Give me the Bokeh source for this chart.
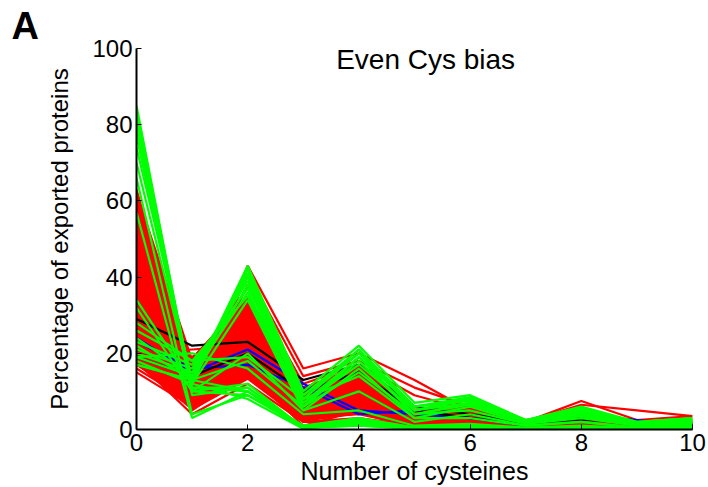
from bokeh.plotting import figure
from bokeh.models import Range1d, Label, FixedTicker
from bokeh.embed import file_html
from bokeh.resources import INLINE

# ---- data (percentage of exported proteins vs number of cysteines) ----
cys = [0, 1, 2, 3, 4, 5, 6, 7, 8, 9, 10]

# dense red bundle (core envelope)
red_core_low = [17, 5, 13, 2, 4, 0.3, 0.3, 0.2, 0.3, 0.2, 0.2]
red_core_high = [63, 19, 35, 11, 17, 5.5, 6, 2.5, 3.5, 2, 2.5]

red_series = [
    [16, 7, 43, 16, 20, 13, 5, 2, 7.5, 2.5, 3.5],
    [15, 6, 41, 14, 18, 11, 6, 2, 6.5, 5, 3.5],
    [17, 8, 38, 12, 17, 9, 5, 2.5, 4, 2, 3],
    [63, 12, 14, 3, 4, 1, 1, 0.5, 0.5, 0.3, 0.2],
    [60, 14, 16, 2, 3, 1, 1.5, 0.5, 1, 0.5, 0.3],
    [55, 15, 18, 4, 5, 1.5, 1, 0.5, 0.5, 0.2, 0.2],
    [50, 16, 20, 5, 6, 2, 1, 0.5, 1, 0.3, 0.5],
    [45, 18, 22, 6, 8, 2, 2, 1, 1, 0.5, 0.5],
    [40, 17, 25, 7, 10, 3, 2, 1, 1.5, 0.5, 1],
    [35, 15, 28, 8, 12, 4, 3, 1.5, 2, 1, 1],
    [30, 13, 30, 9, 14, 4, 4, 1.5, 2.5, 1, 1.5],
    [25, 12, 33, 10, 15, 5, 5, 2, 3, 1.5, 2],
    [22, 10, 35, 11, 16, 5, 6, 2, 3, 1.5, 2.5],
    [20, 21, 22, 5, 8, 3, 3, 1, 2, 1, 1],
    [33, 8, 27, 3, 13, 2, 4, 1, 2, 1, 1],
    [58, 5, 15, 1, 5, 0.5, 2, 0.5, 1, 0.5, 0.5],
    [48, 9, 19, 2, 9, 1, 3, 1, 1.5, 0.5, 1],
    [38, 11, 24, 4, 11, 2, 3.5, 1, 2, 1, 1.5],
    [27, 19, 30, 6, 17, 4, 5, 2, 3.5, 1, 2],
    [18, 4, 12, 2, 2, 0.5, 1, 0.2, 0.5, 0.2, 0.3],
]

blue_series = [
    [24, 15, 21, 12, 5, 4, 3, 1.5, 4.5, 2, 1.5],
    [23, 16, 17, 11, 4, 5, 3, 1, 4, 2.5, 1],
]

black_series = [
    [29, 22, 23, 13, 17, 6, 4, 2, 3, 2, 1.5],
    [19, 14, 20, 10, 15, 5, 3, 1.5, 2.5, 2, 1],
]

green_series = [
    [85, 10, 9, 0.5, 1, 0.3, 0.3, 0.1, 0.2, 0.1, 0.1],
    [83, 11, 10, 0.3, 1.5, 0.3, 0.5, 0.1, 0.2, 0.1, 0.1],
    [81, 9, 11, 0.5, 1, 0.2, 0.3, 0.1, 0.1, 0.1, 0.1],
    [79, 12, 8, 0.2, 2, 0.3, 0.5, 0.2, 0.3, 0.1, 0.2],
    [77, 10, 12, 0.4, 1.5, 0.5, 0.4, 0.1, 0.2, 0.1, 0.1],
    [74, 13, 10, 0.3, 2.5, 0.4, 0.6, 0.2, 0.3, 0.1, 0.2],
    [70, 11, 11, 0.5, 3, 0.5, 0.8, 0.2, 0.4, 0.1, 0.2],
    [66, 4, 9, 1, 2, 0.5, 1, 0.2, 0.3, 0.1, 0.2],
    [57, 3, 10, 1, 3, 0.5, 1, 0.3, 0.5, 0.2, 0.3],
    [17, 13, 43, 10, 22, 7, 9, 2.5, 6, 2, 3],
    [18, 12, 42, 9, 21, 6, 8.5, 2.5, 5.5, 2, 3],
    [19, 14, 41, 8, 20, 5, 8, 2, 5, 1.5, 2.5],
    [20, 15, 40, 7, 19, 6, 7.5, 2, 5, 1.5, 2.5],
    [21, 16, 39, 8, 21, 5, 8, 2, 4.5, 1.5, 2],
    [22, 13, 38, 6, 18, 4, 7, 2, 4, 1, 2],
    [23, 17, 37, 9, 20, 6, 8, 2.5, 4.5, 1.5, 2.5],
    [24, 14, 36, 7, 17, 5, 7, 2, 4, 1, 2],
    [26, 18, 35, 6, 19, 4, 6.5, 2, 4, 1, 2],
    [34, 12, 34, 5, 16, 3, 6, 1.5, 3.5, 1, 2],
    [32, 10, 20, 5, 10, 2, 4, 1, 2, 0.5, 1],
    [28, 18, 19, 8, 14, 3, 3, 1, 2, 0.5, 1],
    [19, 20, 16, 4, 5, 1, 1.5, 0.5, 1, 0.3, 0.5],
    [17, 13, 18, 6, 15, 4, 5, 1.5, 3, 1, 1.5],
]

x_ticks = [0, 2, 4, 6, 8, 10]
y_ticks = [0, 20, 40, 60, 80, 100]

FONT = "Liberation Sans"

p = figure(width=708, height=487, output_backend="svg", toolbar_location=None,
           x_range=Range1d(0, 10), y_range=Range1d(0, 100),
           min_border_left=136, min_border_right=16, min_border_top=48,
           min_border_bottom=56)
p.outline_line_color = None
p.xgrid.visible = False
p.ygrid.visible = False

p.varea(x=cys, y1=red_core_low, y2=red_core_high, fill_color="#ff0000")
for s in red_series:
    p.line(cys, s, line_color="#ff0000", line_width=2.2)
for s in blue_series:
    p.line(cys, s, line_color="#0000ff", line_width=2.2)
for s in black_series:
    p.line(cys, s, line_color="#000000", line_width=2.2)
for s in green_series:
    p.line(cys, s, line_color="#00ff00", line_width=2.2)

for ax, ticks in ((p.xaxis[0], x_ticks), (p.yaxis[0], y_ticks)):
    ax.ticker = FixedTicker(ticks=ticks)
    ax.minor_tick_line_color = None
    ax.major_tick_in = 5
    ax.major_tick_out = 0
    ax.axis_line_width = 2
    ax.axis_line_color = "black"
    ax.major_tick_line_color = "black"
    ax.major_label_text_font = FONT
    ax.major_label_text_font_size = "24px"
    ax.major_label_text_color = "black"
    ax.axis_label_text_font = FONT
    ax.axis_label_text_font_style = "normal"
    ax.axis_label_text_color = "black"

p.xaxis.axis_label = "Number of cysteines"
p.yaxis.axis_label = "Percentage of exported proteins"
p.xaxis.axis_label_text_font_size = "25px"
p.yaxis.axis_label_text_font_size = "24px"
p.xaxis.major_label_standoff = 4
p.xaxis.axis_label_standoff = 3
p.yaxis.major_label_standoff = 4
p.yaxis.axis_label_standoff = 16

# panel letter as the plot title
p.title.text = "A"
p.title.text_font = FONT
p.title.text_font_size = "38px"
p.title.text_font_style = "bold"
p.title.text_color = "black"
p.title.align = "left"
p.title.offset = -125
p.title.standoff = 0
p.title.vertical_align = "top"

p.add_layout(Label(x=5.2, y=97, text="Even Cys bias", text_font=FONT,
                   text_font_size="28px", text_align="center",
                   text_baseline="middle", text_color="black"))

open("out.html", "w").write(file_html(p, INLINE))
